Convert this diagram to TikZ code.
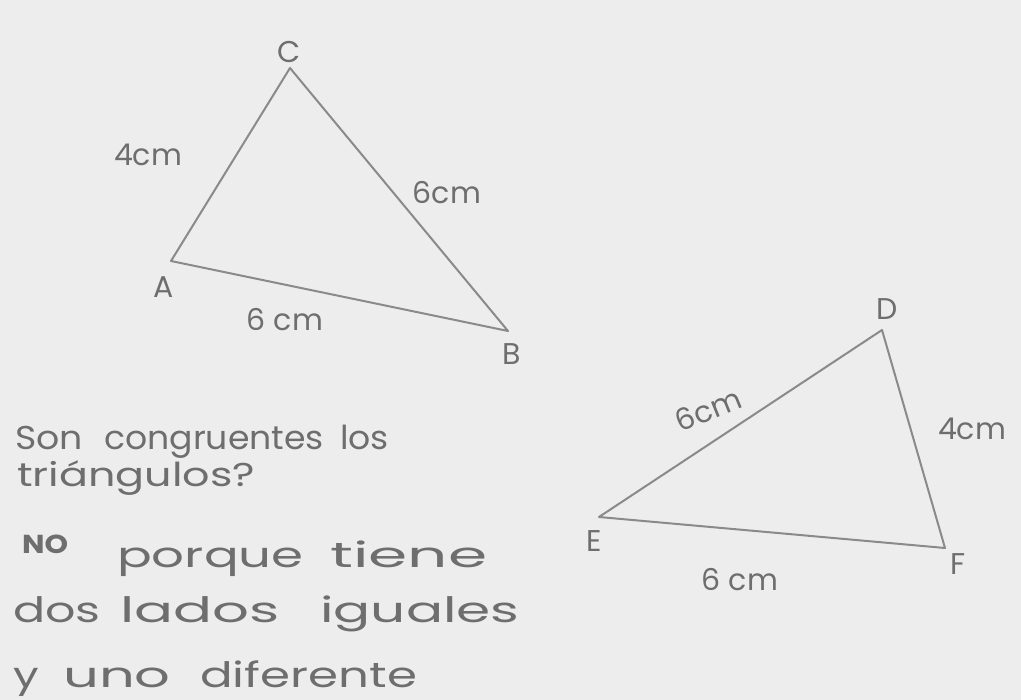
\documentclass[tikz,border=0pt]{standalone}
\usepackage{fontspec}
\setmainfont{Poppins}
\definecolor{paper}{HTML}{EDEDED}
\definecolor{ink}{HTML}{6E6E6E}
\definecolor{pencil}{HTML}{8A8A8A}
\newcommand{\hwide}[2]{\scalebox{#1}[1]{#2}}
\begin{document}
\begin{tikzpicture}[x=1pt,y=-1pt,
  side/.style={draw=pencil,line width=2pt,line cap=round,line join=round},
  vlabel/.style={text=ink,font=\fontsize{30}{32}\selectfont,inner sep=0pt},
  mlabel/.style={text=ink,font=\fontsize{30}{32}\selectfont,inner sep=0pt},
  para/.style={text=ink,anchor=base west,inner sep=0pt},
  small/.style={font=\fontsize{33}{35}\selectfont},
  big/.style={font=\fontsize{35}{37}\selectfont}]
\fill[paper] (0,0) rectangle (1021,700);
\useasboundingbox (0,0) rectangle (1021,700);
% first triangle
\coordinate (A) at (171,261);
\coordinate (B) at (508,331);
\coordinate (C) at (290,68);
\draw[side] (A) -- (C) -- (B) -- cycle;
\node[vlabel] (lC) at (289,52) {C};
\node[vlabel] (lA) at (164,287) {A};
\node[vlabel] (lB) at (512,354) {B};
\node[mlabel] (sAC) at (148,155) {4cm};
\node[mlabel] (sCB) at (447,193) {6cm};
\node[mlabel] (sAB) at (285,320) {6 cm};
% second triangle
\coordinate (D) at (882,330);
\coordinate (E) at (599,517);
\coordinate (F) at (945,548);
\draw[side] (E) -- (D) -- (F) -- cycle;
\node[vlabel] (lD) at (887,309) {D};
\node[vlabel] (lE) at (594,541) {E};
\node[vlabel] (lF) at (958,564) {F};
\node[mlabel,rotate=22] (sED) at (708,410) {6cm};
\node[mlabel] (sDF) at (972,429) {4cm};
\node[mlabel] (sEF) at (740,580) {6 cm};
% text
\node[para,small] (w1) at (15,450) {\hwide{1.1}{Son}};
\node[para,small] (w2) at (104,450) {\hwide{1.05}{congruentes}};
\node[para,small] (w3) at (340,450) {\hwide{1.05}{los}};
\node[para,small] (w4) at (17,487) {\hwide{1.3}{triángulos?}};
\node[para,font=\bfseries\fontsize{26}{28}\selectfont] (w5) at (22,554) {\hwide{1.15}{NO}};
\node[para,big] (w6) at (117,568) {\hwide{1.47}{porque}};
\node[para,big] (w7) at (330,568) {\hwide{1.8}{tiene}};
\node[para,big] (w8) at (13,622) {\hwide{1.36}{dos}};
\node[para,big] (w9) at (120,622) {\hwide{1.65}{lados}};
\node[para,big] (w10) at (320,622) {\hwide{1.57}{iguales}};
\node[para,big] (w11) at (13,687) {\hwide{1.3}{y}};
\node[para,big] (w12) at (63,687) {\hwide{1.6}{uno}};
\node[para,big] (w13) at (200,687) {\hwide{1.38}{diferente}};
\end{tikzpicture}
\end{document}
